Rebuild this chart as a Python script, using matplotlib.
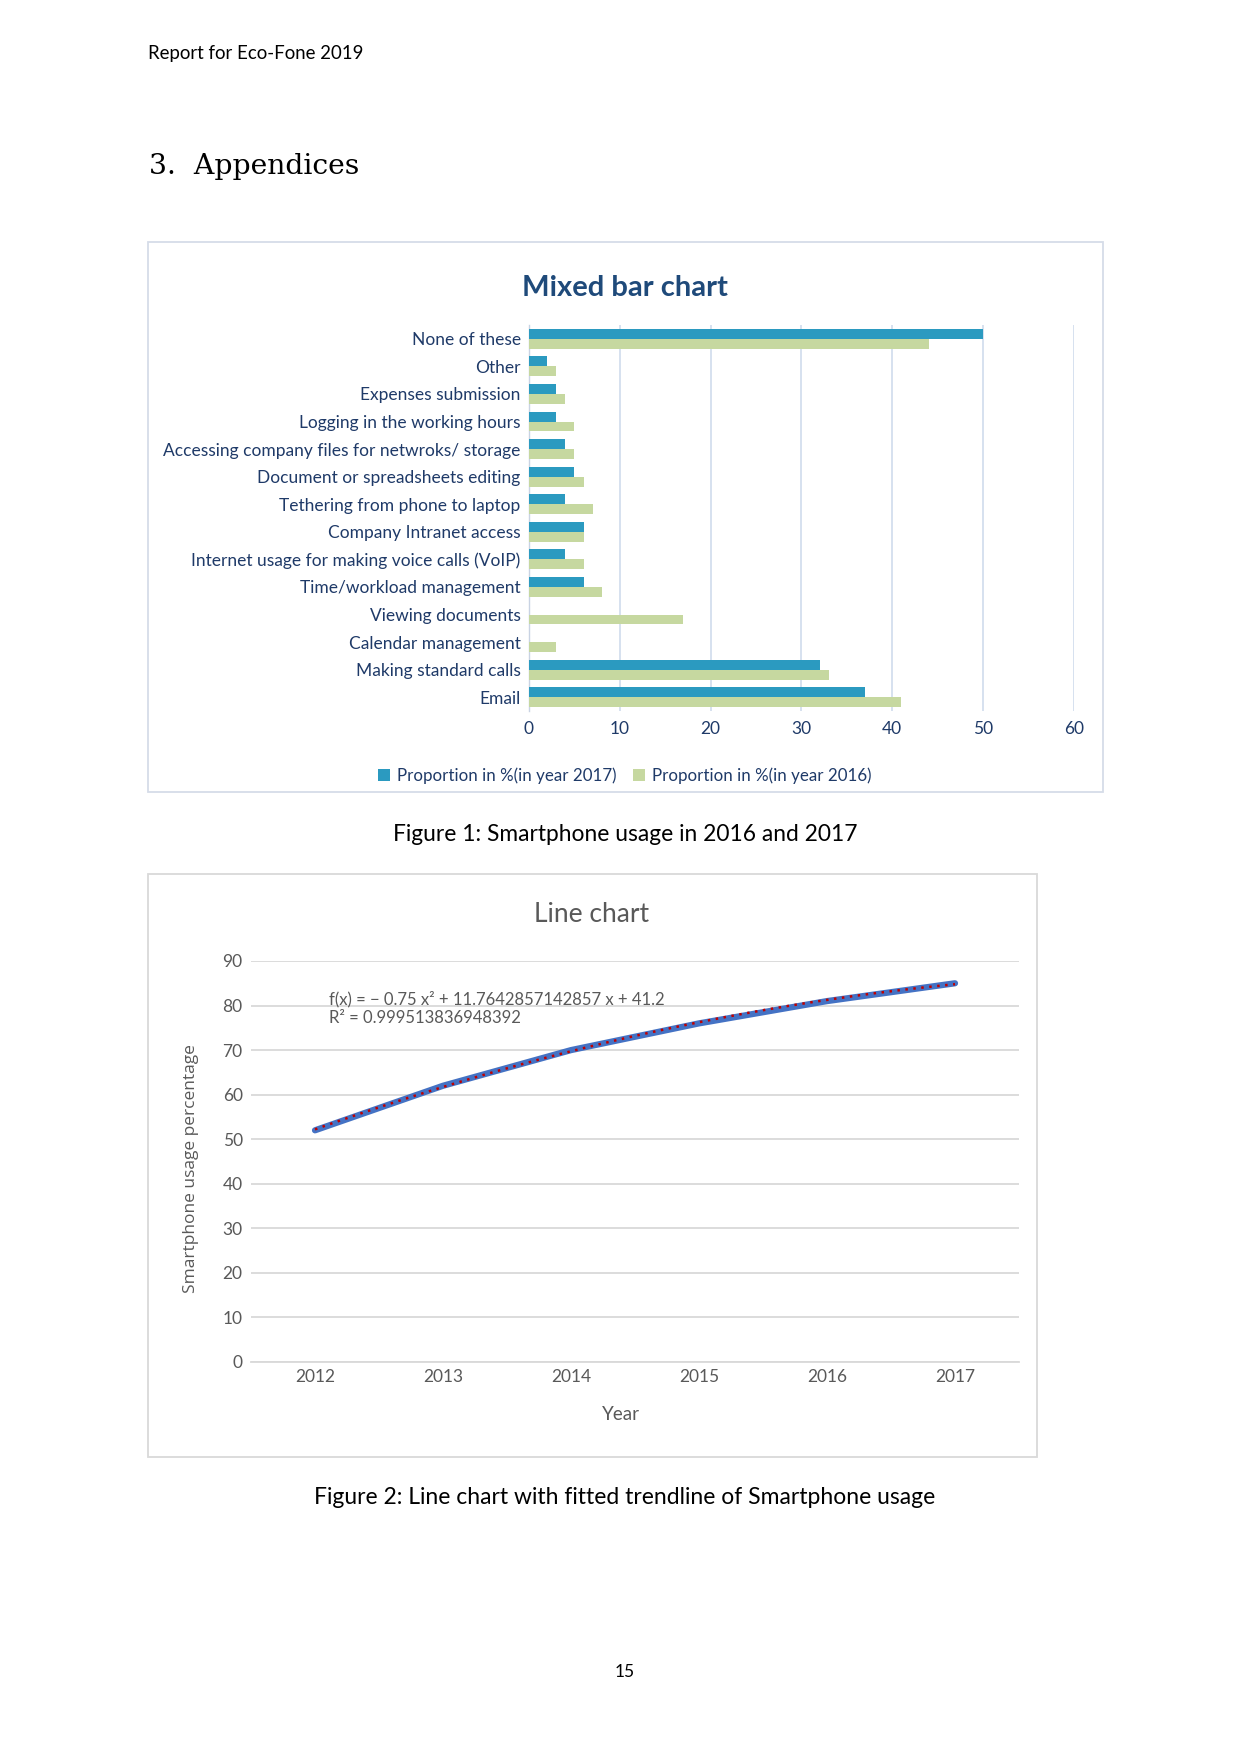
import numpy as np
import matplotlib
matplotlib.use("Agg")
import matplotlib.pyplot as plt
from matplotlib.patches import Rectangle

# ---------------- data ----------------
categories = [
    "None of these", "Other", "Expenses submission", "Logging in the working hours",
    "Accessing company files for netwroks/ storage", "Document or spreadsheets editing",
    "Tethering from phone to laptop", "Company Intranet access",
    "Internet usage for making voice calls (VoIP)", "Time/workload management",
    "Viewing documents", "Calendar management", "Making standard calls", "Email",
]
share_2017 = [50, 2, 3, 3, 4, 5, 4, 6, 4, 6, 0, 0, 32, 37]
share_2016 = [44, 3, 4, 5, 5, 6, 7, 6, 6, 8, 17, 3, 33, 41]
bar_ticks = [0, 10, 20, 30, 40, 50, 60]
series_names = ["Proportion in %(in year 2017)", "Proportion in %(in year 2016)"]

years = ["2012", "2013", "2014", "2015", "2016", "2017"]
usage = [52, 62, 70, 76, 81, 85]
line_yticks = [0, 10, 20, 30, 40, 50, 60, 70, 80, 90]
eq_text = "f(x) = \u2212 0.75 x\u00b2 + 11.7642857142857 x + 41.2"
r2_text = "R\u00b2 = 0.999513836948392"

# ---------------- figure ----------------
W, H = 1241, 1754
fig = plt.figure(figsize=(W / 100, H / 100), dpi=100)
fig.patch.set_facecolor("white")

def fx(x):
    return x / W

def fy(y):
    return 1 - y / H

def axes_px(l, t, r, b):
    return fig.add_axes([fx(l), fy(b), (r - l) / W, (b - t) / H])

SANS = ["Lato", "DejaVu Sans"]
NAVY = "#1F3A68"
GRAY = "#595959"

# page texts
fig.text(fx(148), fy(54), "Report for Eco-Fone 2019", family=SANS, fontsize=13.4,
         color="black", ha="left", va="center")
fig.text(fx(149), fy(166), "3.  Appendices", family=["DejaVu Serif"], fontsize=20.3,
         color="black", ha="left", va="center")
fig.text(fx(625), fy(834), "Figure 1: Smartphone usage in 2016 and 2017", family=SANS,
         fontsize=16.4, color="black", ha="center", va="center")
fig.text(fx(625), fy(1498), "Figure 2: Line chart with fitted trendline of Smartphone usage",
         family=SANS, fontsize=16.5, color="black", ha="center", va="center")
fig.text(fx(625), fy(1672), "15", family=SANS, fontsize=12.5, color="black",
         ha="center", va="center")

# chart frames
fig.patches.append(Rectangle((fx(148), fy(792)), (1103 - 148) / W, (792 - 242) / H,
                             transform=fig.transFigure, fill=False,
                             edgecolor="#D6DCE8", linewidth=1.3))
fig.patches.append(Rectangle((fx(148), fy(1457)), (1037 - 148) / W, (1457 - 874) / H,
                             transform=fig.transFigure, fill=False,
                             edgecolor="#D9D9D9", linewidth=1.3))

# ---------------- bar chart ----------------
ax = axes_px(529, 325, 1074, 711)
n = len(categories)
pos = np.arange(n)[::-1]
h = 0.36
b1 = ax.barh(pos + h / 2, share_2017, height=h, color="#2B9AC0", label=series_names[0],
             zorder=3)
b2 = ax.barh(pos - h / 2, share_2016, height=h, color="#C6D8A0", label=series_names[1],
             zorder=3)
ax.set_xlim(0, 60)
ax.set_ylim(-0.5, n - 0.5)
ax.set_xticks(bar_ticks)
ax.set_yticks(pos)
ax.set_yticklabels(categories)
ax.grid(axis="x", color="#D3DEEE", linewidth=1.3, zorder=0)
for s in ["top", "right", "bottom"]:
    ax.spines[s].set_visible(False)
ax.spines["left"].set_color("#C9D3E3")
ax.spines["left"].set_linewidth(1.0)
ax.tick_params(axis="both", length=0, colors=NAVY, labelsize=12.5, pad=6)
for lbl in ax.get_xticklabels() + ax.get_yticklabels():
    lbl.set_family(SANS)
    lbl.set_color(NAVY)
ax.tick_params(axis="x", pad=7)
ax.set_facecolor("none")
fig.text(fx(625), fy(288), "Mixed bar chart", family=SANS, fontsize=21, weight="bold",
         color="#1F4A7A", ha="center", va="center")
leg = fig.legend(handles=[b1, b2], labels=series_names, loc="center",
                 bbox_to_anchor=(fx(625), fy(776)), ncol=2, frameon=False,
                 prop={"family": SANS, "size": 12.2}, handlelength=0.7,
                 handleheight=0.7, handletextpad=0.4, columnspacing=1.0)
for t in leg.get_texts():
    t.set_color(NAVY)

# ---------------- line chart ----------------
ax2 = axes_px(251, 961, 1019, 1362)
xi = np.arange(len(years))
ax2.plot(xi, usage, color="#4472C4", linewidth=4.5, solid_capstyle="round", zorder=3)
coef = np.polyfit(xi + 1, usage, 2)
xs = np.linspace(0, len(years) - 1, 200)
ax2.plot(xs, np.polyval(coef, xs + 1), color="#C00000", linewidth=1.8,
         linestyle=(0, (1, 2.2)), zorder=4)
ax2.set_xlim(-0.5, len(years) - 0.5)
ax2.set_ylim(0, 90)
ax2.set_yticks(line_yticks)
ax2.set_xticks(xi)
ax2.set_xticklabels(years)
ax2.grid(axis="y", color="#D9D9D9", linewidth=1.3, zorder=0)
for s in ["top", "right", "left"]:
    ax2.spines[s].set_visible(False)
ax2.spines["bottom"].set_color("#D9D9D9")
ax2.spines["bottom"].set_linewidth(1.3)
ax2.tick_params(axis="both", length=0, colors=GRAY, labelsize=12.5)
ax2.tick_params(axis="x", pad=5)
ax2.tick_params(axis="y", pad=6)
for lbl in ax2.get_xticklabels() + ax2.get_yticklabels():
    lbl.set_family(SANS)
ax2.set_facecolor("none")
fig.text(fx(592), fy(915), "Line chart", family=SANS, fontsize=19, color=GRAY,
         ha="center", va="center")
fig.text(fx(191), fy(1169), "Smartphone usage percentage", family=["Open Sans", "DejaVu Sans"],
         fontsize=12.5, color=GRAY, rotation=90, ha="center", va="center")
fig.text(fx(621), fy(1414), "Year", family=SANS, fontsize=13.5, color=GRAY,
         ha="center", va="center")
fig.text(fx(329), fy(999), eq_text, family=SANS, fontsize=12, color=GRAY,
         ha="left", va="center")
fig.text(fx(329), fy(1018), r2_text, family=SANS, fontsize=12, color=GRAY,
         ha="left", va="center")

fig.savefig("out.png", dpi=100, facecolor="white")
